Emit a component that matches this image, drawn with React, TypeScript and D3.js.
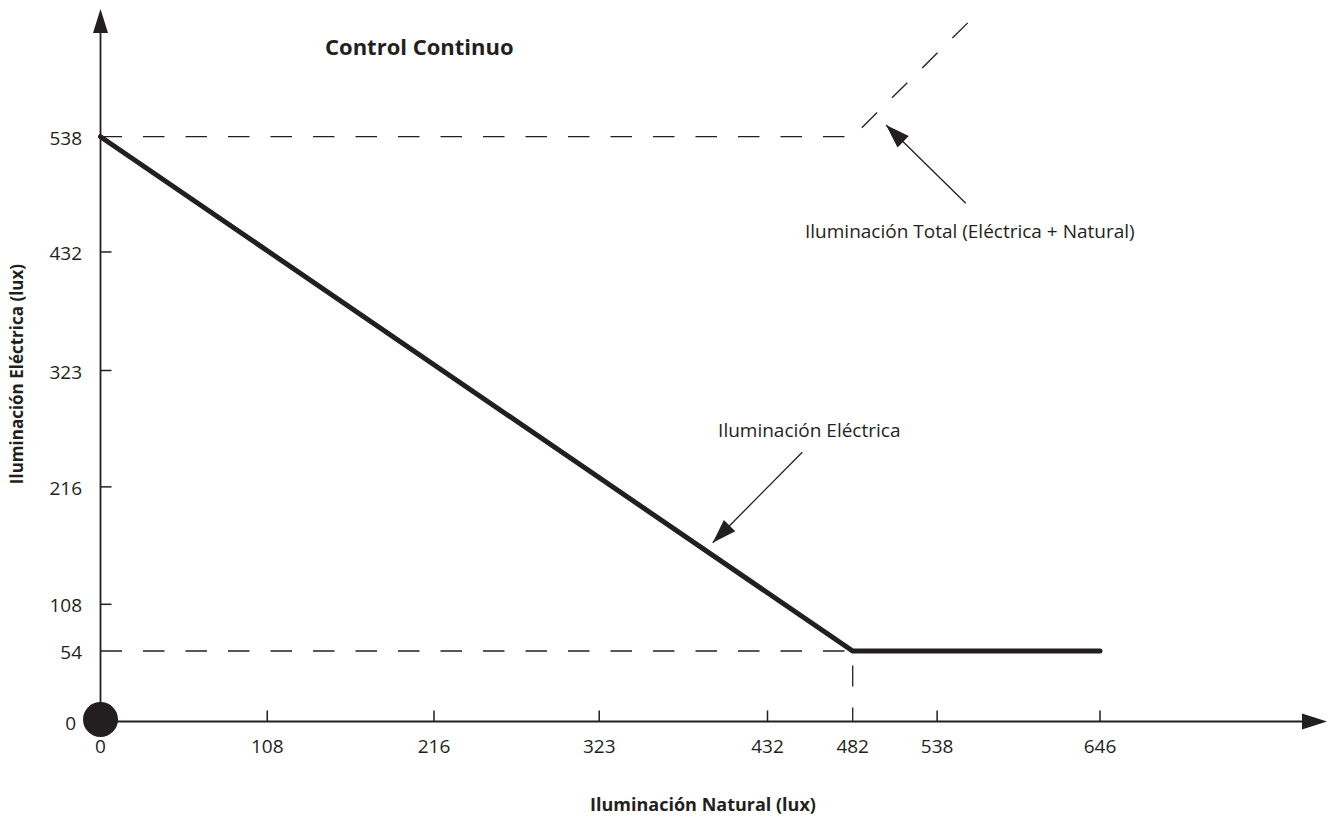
import React from "react";
import * as d3 from "d3";

const W = 1337;
const H = 819;

// Axis tick values (lux)
const xTickValues = [0, 108, 216, 323, 432, 482, 538, 646];
const yTickValues = [0, 54, 108, 216, 323, 432, 538];
const xSolidTicks = [108, 216, 323, 432, 538, 646];
const ySolidTicks = [108, 216, 323, 432];

// Series: Iluminación Eléctrica (solid, thick)
const electricX = [0, 482, 646];
const electricY = [538, 54, 54];

// Series: Iluminación Total (dashed)
const totalX = [0, 482, 560];
const totalY = [538, 538, 645];

// Reference (dashed) guide at 54 lux up to 482 lux
const guideX = [0, 482];
const guideY = [54, 54];

const INK = "#231f20";
const FONT = "'Open Sans', 'Noto Sans', sans-serif";

export default function App() {
  const x0 = 100.5;
  const y0 = 721.5;
  const xAxisEnd = 1327;
  const yAxisEnd = 9;

  const x = d3
    .scaleLinear()
    .domain([0, 432, 482, 646])
    .range([x0, 767.5, 852.7, 1100]);
  const y = d3
    .scaleLinear()
    .domain([0, 54, 108, 538])
    .range([y0, 651, 604.3, 136.7]);

  const line = d3
    .line<[number, number]>()
    .x((d) => x(d[0]))
    .y((d) => y(d[1]));

  const electric = electricX.map((v, i) => [v, electricY[i]] as [number, number]);
  const total = totalX.map((v, i) => [v, totalY[i]] as [number, number]);
  const guide = guideX.map((v, i) => [v, guideY[i]] as [number, number]);
  const vGuide: [number, number][] = [
    [482, 0],
    [482, 54],
  ];

  const annotations = [
    {
      text: "Iluminación Eléctrica",
      tx: 400,
      ty: 262,
      tail: [452.4, 247.8],
      tip: [396.5, 164.6],
    },
    {
      text: "Iluminación Total (Eléctrica + Natural)",
      tx: 454,
      ty: 444.9,
      tail: [557, 476.8],
      tip: [504.1, 548.8],
    },
  ];

  const arrowHead = (x1: number, y1: number, x2: number, y2: number, len = 24, hw = 7.5) => {
    const dx = x2 - x1;
    const dy = y2 - y1;
    const L = Math.hypot(dx, dy);
    const ux = dx / L;
    const uy = dy / L;
    const bx = x2 - ux * len;
    const by = y2 - uy * len;
    const px = -uy;
    const py = ux;
    return `M${x2},${y2}L${bx + px * hw},${by + py * hw}L${bx - px * hw},${by - py * hw}Z`;
  };

  return (
    <svg
      width={W}
      height={H}
      style={{ position: "absolute", left: 0, top: 0, background: "#fff" }}
      fontFamily={FONT}
    >
      {/* Title */}
      <text x={325} y={55} fontSize={22} fontWeight={700} fill={INK}>
        Control Continuo
      </text>

      {/* Dashed total line */}
      <path
        d={line(total) || ""}
        fill="none"
        stroke={INK}
        strokeWidth={1.3}
        strokeDasharray="21.5 21"
      />
      {/* Dashed guide at 54 */}
      <path
        d={line(guide) || ""}
        fill="none"
        stroke={INK}
        strokeWidth={1.3}
        strokeDasharray="21.5 21"
      />
      {/* Vertical dashed guide at 482 */}
      <path
        d={line(vGuide) || ""}
        fill="none"
        stroke={INK}
        strokeWidth={1.3}
        strokeDasharray="14 21 21 21"
      />

      {/* Axes */}
      <line x1={x0} y1={y0} x2={xAxisEnd - 20} y2={y0} stroke={INK} strokeWidth={1.8} />
      <path d={arrowHead(x0, y0, xAxisEnd, y0, 25, 8)} fill={INK} />
      <line x1={x0} y1={y0} x2={x0} y2={yAxisEnd + 20} stroke={INK} strokeWidth={1.8} />
      <path d={arrowHead(x0, y0, x0, yAxisEnd, 24, 7.5)} fill={INK} />

      {/* X ticks */}
      {xSolidTicks.map((t) => (
        <line key={"xt" + t} x1={x(t)} x2={x(t)} y1={y0} y2={y0 - 11} stroke={INK} strokeWidth={1.5} />
      ))}
      {xTickValues.map((t) => (
        <text
          key={"xl" + t}
          x={x(t)}
          y={y0 + 31}
          fontSize={19}
          textAnchor="middle"
          fill={INK}
        >
          {t}
        </text>
      ))}

      {/* Y ticks */}
      {ySolidTicks.map((t) => (
        <line key={"yt" + t} x1={x0} x2={x0 + 11} y1={y(t)} y2={y(t)} stroke={INK} strokeWidth={1.5} />
      ))}
      {yTickValues.map((t) => (
        <text
          key={"yl" + t}
          x={t === 0 ? 76 : 82}
          y={y(t) + 8}
          fontSize={19}
          textAnchor="end"
          fill={INK}
        >
          {t}
        </text>
      ))}

      {/* Electric line */}
      <path
        d={line(electric) || ""}
        fill="none"
        stroke={INK}
        strokeWidth={5}
        strokeLinecap="round"
      />

      {/* Origin dot */}
      <circle cx={x(0)} cy={y(0) - 2} r={17.5} fill={INK} />

      {/* Annotations */}
      {annotations.map((a) => {
        const tx1 = x(a.tail[0]);
        const ty1 = y(a.tail[1]);
        const tx2 = x(a.tip[0]);
        const ty2 = y(a.tip[1]);
        return (
          <g key={a.text}>
            <line x1={tx1} y1={ty1} x2={tx2} y2={ty2} stroke={INK} strokeWidth={1.3} />
            <path d={arrowHead(tx1, ty1, tx2, ty2, 24, 8)} fill={INK} />
            <text x={x(a.tx)} y={y(a.ty)} fontSize={19} fill={INK}>
              {a.text}
            </text>
          </g>
        );
      })}

      {/* Axis titles */}
      <text
        x={703}
        y={811}
        fontSize={18}
        fontWeight={700}
        textAnchor="middle"
        fill={INK}
      >
        Iluminación Natural (lux)
      </text>
      <text
        transform="translate(23,374) rotate(-90)"
        fontSize={17}
        fontWeight={700}
        textAnchor="middle"
        fill={INK}
      >
        Iluminación Eléctrica (lux)
      </text>
    </svg>
  );
}
